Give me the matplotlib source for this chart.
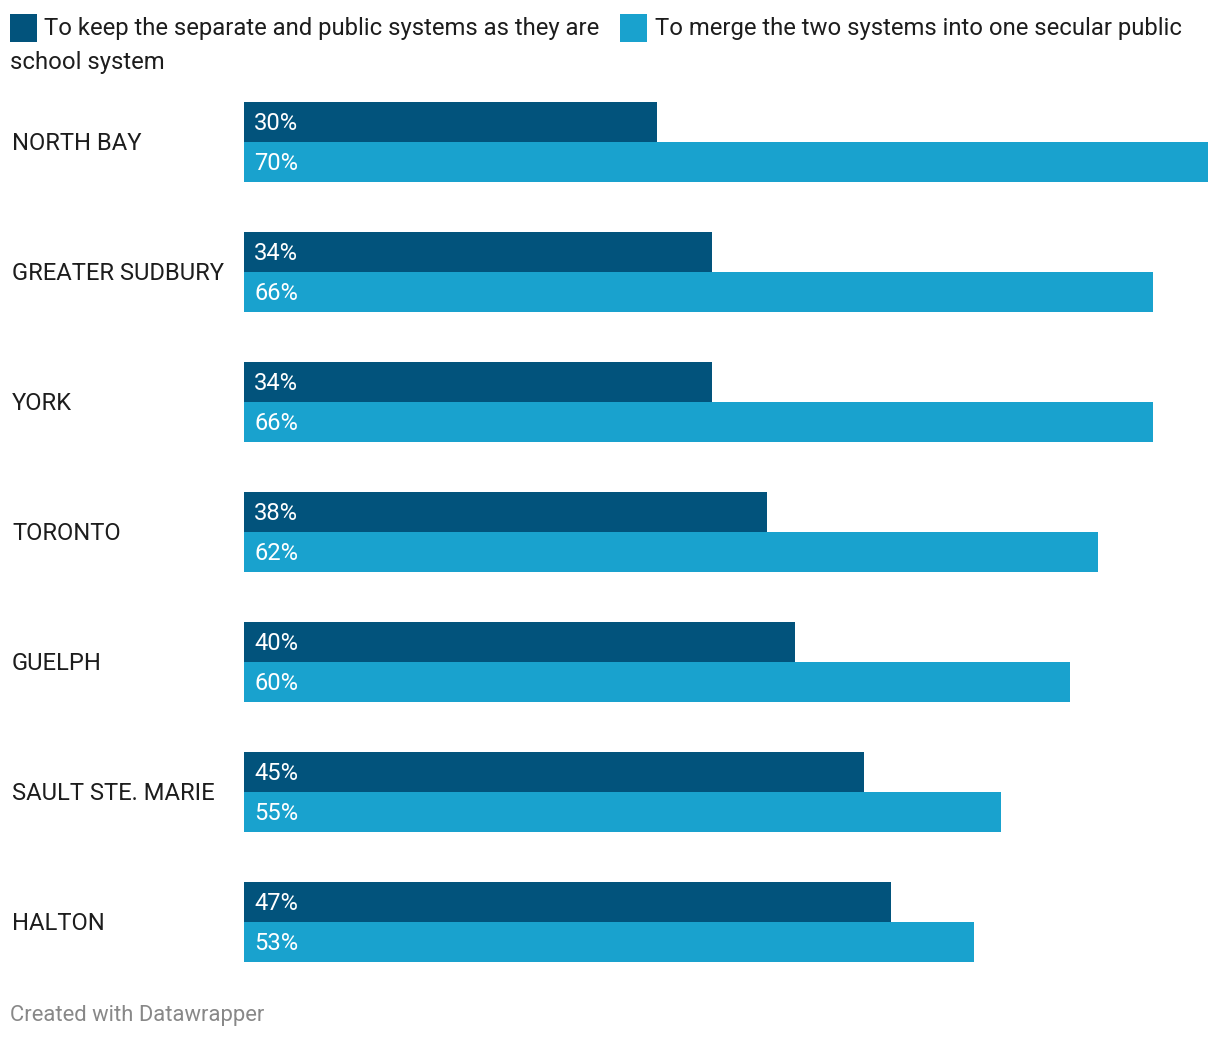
import matplotlib
matplotlib.use("Agg")
import matplotlib.pyplot as plt
import numpy as np
from matplotlib.patches import Rectangle

categories = ["NORTH BAY", "GREATER SUDBURY", "YORK", "TORONTO", "GUELPH", "SAULT STE. MARIE", "HALTON"]
keep = [30, 34, 34, 38, 40, 45, 47]
merge = [70, 66, 66, 62, 60, 55, 53]
legend_labels = ["To keep the separate and public systems as they are",
                 "To merge the two systems into one secular public", "school system"]
footer = "Created with Datawrapper"

DARK = "#02537c"
LIGHT = "#19a2ce"
W, H = 1220, 1040
plt.rcParams['font.family'] = ['Roboto', 'DejaVu Sans']

fig = plt.figure(figsize=(W / 100, H / 100), dpi=100)
ax_left, ax_right = 244, 1208
ax_top, ax_bot = 102, 962
ax = fig.add_axes([ax_left / W, 1 - ax_bot / H, (ax_right - ax_left) / W, (ax_bot - ax_top) / H])

n = len(categories)
pos = np.arange(n)
bh = 40 / 130
ax.barh(pos + bh / 2, keep, height=bh, color=DARK, linewidth=0)
ax.barh(pos + 1.5 * bh, merge, height=bh, color=LIGHT, linewidth=0)
ax.set_xlim(0, max(merge))
ax.set_ylim(n - 1 + 2 * bh, 0)
ax.axis("off")

fs = 17.1
dy = 1.5 / 130
off = 10 / (ax_right - ax_left) * max(merge)
for i in range(n):
    ax.text(off, pos[i] + bh / 2 + dy, f"{keep[i]}%", color="white", fontsize=fs, va="center", ha="left")
    ax.text(off, pos[i] + 1.5 * bh + dy, f"{merge[i]}%", color="white", fontsize=fs, va="center", ha="left")
    yc = 1 - (ax_top + (pos[i] * 130 + 40) + 1.5) / H
    fig.text(12 / W, yc, categories[i], fontsize=fs, color="#1d1d1d", va="center", ha="left")

# legend
fig.patches.append(Rectangle((10 / W, 1 - 42 / H), 27 / W, 28 / H, transform=fig.transFigure, color=DARK, linewidth=0))
fig.text(44 / W, 1 - 28 / H, legend_labels[0], fontsize=17.2, color="#1d1d1d", va="center", ha="left")
fig.patches.append(Rectangle((620 / W, 1 - 42 / H), 27 / W, 28 / H, transform=fig.transFigure, color=LIGHT, linewidth=0))
fig.text(655 / W, 1 - 28 / H, legend_labels[1], fontsize=17.2, color="#1d1d1d", va="center", ha="left")
fig.text(10 / W, 1 - 63 / H, legend_labels[2], fontsize=17.2, color="#1d1d1d", va="center", ha="left")

fig.text(10 / W, 1 - 1016 / H, footer, fontsize=15.8, color="#888888", va="center", ha="left")

fig.savefig("out.png", dpi=100, facecolor="white")
